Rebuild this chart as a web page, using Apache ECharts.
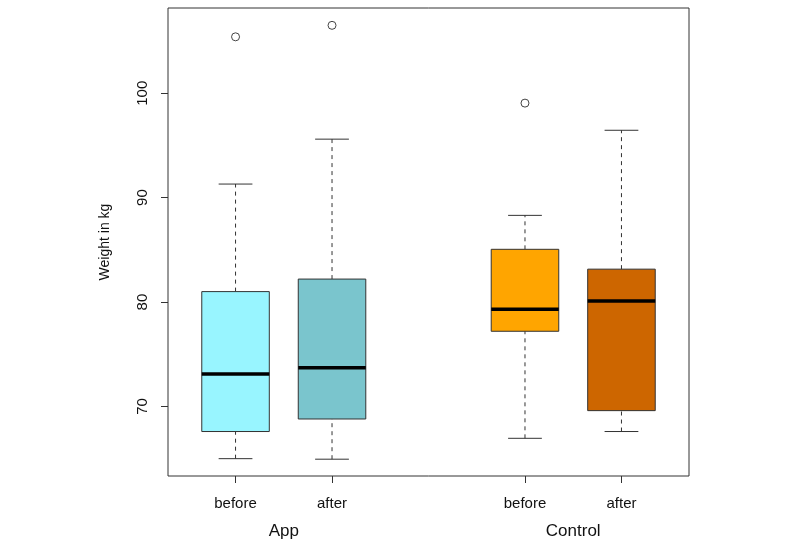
<!DOCTYPE html>
<html><head><meta charset="utf-8">
<script src="https://cdn.jsdelivr.net/npm/echarts@6/dist/echarts.min.js"></script>
<style>html,body{margin:0;padding:0;background:#fff}#c{width:800px;height:549px}</style>
</head><body><div id="c"></div>
<script>
const groups = ['App', 'Control'];
const groupAt = [1.5, 4.5];
const tickLabels = ['before', 'after', 'before', 'after'];
const boxAt = [1, 2, 4, 5];
const whiskerLow = [65.0, 64.95, 66.95, 67.6];
const q1 = [67.6, 68.8, 77.2, 69.6];
const median = [73.1, 73.7, 79.3, 80.1];
const q3 = [81.0, 82.2, 85.05, 83.15];
const whiskerHigh = [91.3, 95.6, 88.3, 96.45];
const outlierAt = [1, 2, 4];
const outlierValue = [105.4, 106.5, 99.05];
const yTicks = [70, 80, 90, 100];
const boxColors = ['#98F5FF', '#7AC5CD', '#FFA500', '#CD6600'];

const FONT = '"Liberation Sans", Arial, sans-serif';
const chart = echarts.init(document.getElementById('c'), null, {renderer: 'canvas'});

const boxData = boxAt.map((x, i) => [x, whiskerLow[i], q1[i], median[i], q3[i], whiskerHigh[i]]);
const outlierData = outlierAt.map((x, i) => [x, outlierValue[i]]);

function renderItem(params, api) {
  const x = api.value(0);
  const lo = api.coord([x, api.value(1)]);
  const b1 = api.coord([x, api.value(2)]);
  const md = api.coord([x, api.value(3)]);
  const b3 = api.coord([x, api.value(4)]);
  const hi = api.coord([x, api.value(5)]);
  const hw = api.size([0.35, 0])[0];
  const cw = hw / 2;
  const cx = lo[0];
  const dash = {stroke: '#333', lineWidth: 1, lineDash: [4, 4]};
  const solid = {stroke: '#333', lineWidth: 1};
  return {
    type: 'group',
    children: [
      {type: 'line', shape: {x1: cx, y1: lo[1], x2: cx, y2: b1[1]}, style: dash},
      {type: 'line', shape: {x1: cx, y1: b3[1], x2: cx, y2: hi[1]}, style: dash},
      {type: 'line', shape: {x1: cx - cw, y1: lo[1], x2: cx + cw, y2: lo[1]}, style: solid},
      {type: 'line', shape: {x1: cx - cw, y1: hi[1], x2: cx + cw, y2: hi[1]}, style: solid},
      {type: 'rect', shape: {x: cx - hw, y: b3[1], width: 2 * hw, height: b1[1] - b3[1]},
        style: {fill: boxColors[params.dataIndex], stroke: '#333', lineWidth: 1}},
      {type: 'line', shape: {x1: cx - hw, y1: md[1], x2: cx + hw, y2: md[1]},
        style: {stroke: '#000', lineWidth: 3.5}}
    ]
  };
}

chart.setOption({
  animation: false,
  backgroundColor: '#fff',
  grid: {left: 168, right: 111, top: 8, bottom: 73, show: true, borderColor: '#333', borderWidth: 1,
    containLabel: false, outerBoundsMode: 'none'},
  xAxis: [
    {
      type: 'value', min: 0.3, max: 5.7, position: 'bottom',
      axisLine: {show: false}, splitLine: {show: false},
      axisTick: {show: true, customValues: boxAt, length: 7, lineStyle: {color: '#333'}},
      axisLabel: {show: true, customValues: boxAt, margin: 20, fontSize: 15, color: '#111', fontFamily: FONT,
        formatter: v => tickLabels[boxAt.indexOf(v)] || ''}
    },
    {
      type: 'value', min: 0.3, max: 5.7, position: 'bottom',
      axisLine: {show: false}, splitLine: {show: false}, axisTick: {show: false},
      axisLabel: {show: true, customValues: groupAt, margin: 47, fontSize: 17, color: '#111', fontFamily: FONT,
        formatter: v => groups[groupAt.indexOf(v)] || ''}
    }
  ],
  yAxis: {
    type: 'value', min: 63.34, max: 108.16,
    axisLine: {show: false}, splitLine: {show: false},
    axisTick: {show: true, customValues: yTicks, length: 7, lineStyle: {color: '#333'}},
    axisLabel: {show: true, customValues: yTicks, rotate: 90, margin: 18, fontSize: 15, color: '#111', fontFamily: FONT},
    name: 'Weight in kg', nameLocation: 'middle', nameGap: 56, nameRotate: 90,
    nameTextStyle: {fontSize: 14, color: '#111', fontFamily: FONT}
  },
  series: [
    {type: 'custom', coordinateSystem: 'cartesian2d', xAxisIndex: 0, renderItem: renderItem,
      encode: {x: 0, y: [1, 2, 3, 4, 5]}, data: boxData, z: 2},
    {type: 'scatter', xAxisIndex: 0, data: outlierData, symbol: 'circle', symbolSize: 8,
      itemStyle: {color: '#ffffff', borderColor: '#444444', borderWidth: 1, opacity: 1}, z: 3}
  ]
});
</script></body></html>
